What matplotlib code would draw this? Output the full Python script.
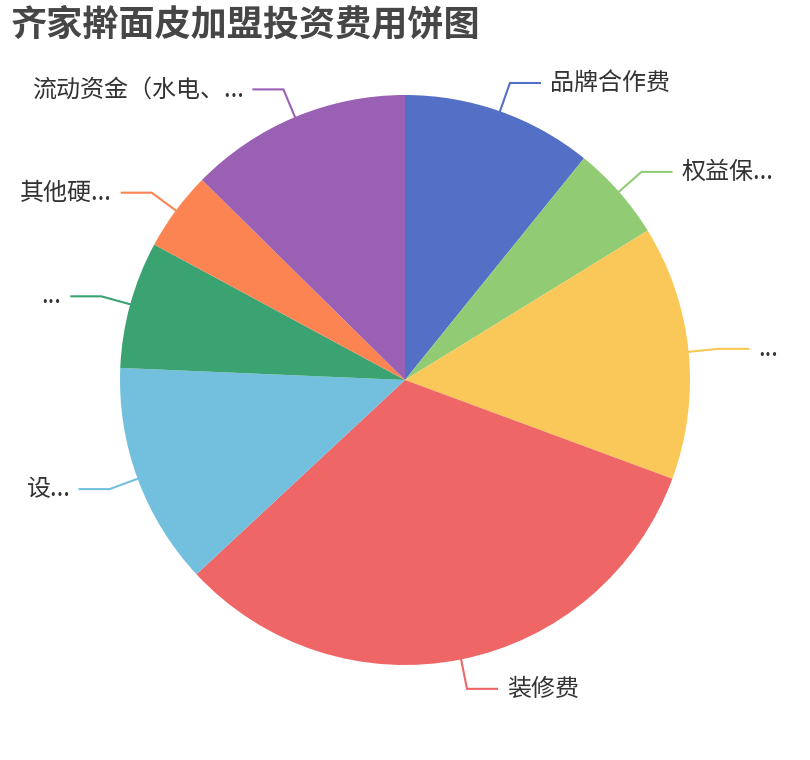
import numpy as np
import matplotlib
matplotlib.use("Agg")
import matplotlib.pyplot as plt

plt.rcParams['font.family'] = ['Noto Sans CJK SC', 'DejaVu Sans']

title = "齐家擀面皮加盟投资费用饼图"
labels = ["品牌合作费", "权益保...", "...", "装修费", "设...", "...", "其他硬...", "流动资金（水电、..."]
values = [3, 1.5, 4, 9, 3.5, 2, 1.25, 3.5]
colors = ["#5470c6", "#91cc75", "#fac858", "#ee6666", "#73c0de", "#3ba272", "#fc8452", "#9a60b4"]

W, H = 810, 760
fig = plt.figure(figsize=(W / 100, H / 100), dpi=100)
ax = fig.add_axes([0, 0, 1, 1])

cx, cy, r = 405, H - 380, 285
wedges, _ = ax.pie(values, colors=colors, startangle=90, counterclock=False,
                   center=(cx, cy), radius=r, frame=True,
                   wedgeprops=dict(linewidth=0))
ax.set_xlim(0, W)
ax.set_ylim(0, H)
ax.set_aspect('equal')
ax.axis('off')

# label lines: radial piece, then horizontal piece, then text
len1, len2, gap = 30, 30, 10
for w, lab, col in zip(wedges, labels, colors):
    mid = np.deg2rad((w.theta1 + w.theta2) / 2)
    dx, dy = np.cos(mid), np.sin(mid)
    x0, y0 = cx + r * dx, cy + r * dy
    x1, y1 = cx + (r + len1) * dx, cy + (r + len1) * dy
    side = 1 if dx >= 0 else -1
    x2 = x1 + side * len2
    ax.plot([x0, x1, x2], [y0, y1, y1], color=col, linewidth=1.5, solid_joinstyle='miter')
    ax.text(x2 + side * gap, y1, lab, fontsize=17.3, color='#333333',
            ha='left' if side > 0 else 'right', va='center')

fig.text(11 / W, 1 - 25 / H, title, fontsize=26, fontweight='bold',
         color='#464646', ha='left', va='center')

fig.savefig("out.png", dpi=100)
